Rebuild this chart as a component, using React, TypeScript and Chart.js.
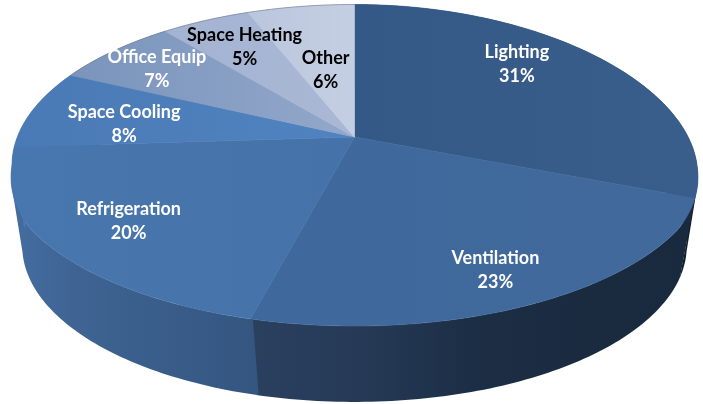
import { useEffect, useRef } from "react";
import { Chart, registerables } from "chart.js";

Chart.register(...registerables);

const categories = ["Lighting", "Ventilation", "Refrigeration", "Space Cooling", "Office Equip", "Space Heating", "Other"];
const shares = [31, 23, 20, 8, 7, 5, 6];

// Top face colours, left to right across each slice
const faceColors = [
  ["#355987", "#3a5e8b"],
  ["#3f689c", "#41699c"],
  ["#4876ae", "#4572a8"],
  ["#4a7ab6", "#5083c0"],
  ["#7a94bc", "#93a8ca"],
  ["#a3b3d2", "#aab8d5"],
  ["#bac6dd", "#c5cfe3"],
];
// Side wall colours, left to right across each slice
const wallColors = [
  ["#16263a", "#101d2d"],
  ["#2a405f", "#263a57", "#1c2e45", "#1a2b40", "#192a3e"],
  ["#446da0", "#3f6494", "#3b5f8c", "#385a87", "#33557f"],
  ["#4a78b2", "#4a78b2"],
  ["#7a94bc", "#7a94bc"],
  ["#a3b3d2", "#a3b3d2"],
  ["#bac6dd", "#bac6dd"],
];
const labelColors = ["#ffffff", "#ffffff", "#ffffff", "#ffffff", "#ffffff", "#000000", "#000000"];
// Label offsets from the point at 60% of the radius on each slice's middle angle
const labelNudges = [
  [9, -23.5],
  [36.5, 41],
  [-56, 20],
  [-35.5, 4.5],
  [-47.5, -14],
  [-15.5, -16],
  [5.5, 16],
];

// Perspective view of the pie's disc: the hub sits above the centre of the visible ellipse.
const HUB_X = 354.5;
const HUB_Y = 137;
const SCALE_X = 337.2;
const SCALE_Y = 155.8;
const TILT = -0.1757;
const ELLIPSE_MID_Y = 165.25;
const ELLIPSE_HALF_H = 160.75;
const FLOOR_SHRINK = 0.97;
const FLOOR_MID_Y = 246;
// Each wall starts a touch early so neighbouring walls leave no hairline between them
const WALL_OVERLAP = 0.006;

type Pt = [number, number];

function rawRim(theta: number, r: number): Pt {
  const u = r * Math.sin(theta);
  const v = -r * Math.cos(theta);
  const w = 1 + TILT * v;
  return [HUB_X + (SCALE_X * u) / w, HUB_Y + (SCALE_Y * v) / w];
}

// The disc bulges slightly below its middle and pulls in on the far right
function project(theta: number, r: number): Pt {
  const [x, y] = rawRim(theta, r);
  const dy = (y - ELLIPSE_MID_Y) / ELLIPSE_HALF_H;
  let gain = 1;
  if (dy > 0) gain += 0.03 * Math.min(1, dy / 0.4);
  else if (x > HUB_X) gain += 0.06 * dy;
  return [HUB_X + (x - HUB_X) * gain, y];
}

function projectFloor(theta: number): Pt {
  const [x, y] = rawRim(theta, 1);
  return [HUB_X + FLOOR_SHRINK * (x - HUB_X), FLOOR_MID_Y + FLOOR_SHRINK * (y - ELLIPSE_MID_Y)];
}

function sweep(a: number, b: number): number[] {
  const n = Math.max(2, Math.ceil(((b - a) * 180) / Math.PI));
  return Array.from({ length: n + 1 }, (_, i) => a + ((b - a) * i) / n);
}

function gradientAcross(ctx: CanvasRenderingContext2D, xs: number[], stops: string[]) {
  const g = ctx.createLinearGradient(Math.min(...xs), 0, Math.max(...xs), 0);
  stops.forEach((c, i) => g.addColorStop(i / (stops.length - 1), c));
  return g;
}

function tracePolygon(ctx: CanvasRenderingContext2D, pts: Pt[]) {
  pts.forEach((p, i) => (i ? ctx.lineTo(p[0], p[1]) : ctx.moveTo(p[0], p[1])));
  ctx.closePath();
}

function signedArea(pts: Pt[]) {
  return pts.reduce((sum, p, i) => {
    const q = pts[(i + 1) % pts.length];
    return sum + p[0] * q[1] - q[0] * p[1];
  }, 0);
}

const tiltedPie = {
  id: "tiltedPie",
  // Replaces the flat arcs with a tilted disc built from the controller's slice angles
  beforeDatasetDraw(chart: Chart) {
    const ctx = chart.ctx;
    const arcs = chart.getDatasetMeta(0).data as any[];
    const spans = arcs.map((arc) => {
      const { startAngle, endAngle } = arc.getProps(["startAngle", "endAngle"], true);
      return [startAngle + Math.PI / 2, endAngle + Math.PI / 2];
    });

    ctx.save();
    // Side wall: one path of same-wound quads, so the silhouette follows the tangent from rim to floor
    spans.forEach(([a, b], i) => {
      const angles = sweep(a - WALL_OVERLAP, b);
      const top = angles.map((t) => project(t, 1));
      const floor = angles.map(projectFloor);
      ctx.beginPath();
      for (let k = 0; k < angles.length - 1; k++) {
        const quad: Pt[] = [top[k], top[k + 1], floor[k + 1], floor[k]];
        tracePolygon(ctx, signedArea(quad) < 0 ? quad.reverse() : quad);
      }
      ctx.fillStyle = gradientAcross(ctx, [...top, ...floor].map((p) => p[0]), wallColors[i]);
      ctx.fill();
    });
    // Top face
    spans.forEach(([a, b], i) => {
      const rim = sweep(a, b).map((t) => project(t, 1));
      const face: Pt[] = [[HUB_X, HUB_Y], ...rim];
      const paint = gradientAcross(ctx, face.map((p) => p[0]), faceColors[i]);
      ctx.beginPath();
      tracePolygon(ctx, face);
      ctx.fillStyle = paint;
      ctx.strokeStyle = paint;
      ctx.lineWidth = 0.6;
      ctx.fill();
      ctx.stroke();
    });
    // Faint grey rim along the pale far edge
    ctx.beginPath();
    sweep(spans[4][0], spans[6][1]).forEach((t, i) => {
      const [x, y] = project(t, 1);
      if (i) ctx.lineTo(x, y);
      else ctx.moveTo(x, y);
    });
    ctx.strokeStyle = "rgba(110,118,135,0.55)";
    ctx.lineWidth = 1;
    ctx.stroke();

    ctx.font = "bold 18px Lato";
    ctx.textAlign = "center";
    ctx.textBaseline = "middle";
    spans.forEach(([a, b], i) => {
      const [x, y] = project((a + b) / 2, 0.6);
      const px = x + labelNudges[i][0];
      const py = y + labelNudges[i][1];
      ctx.fillStyle = labelColors[i];
      ctx.fillText(categories[i], px, py - 12);
      ctx.fillText(`${shares[i]}%`, px, py + 12);
    });
    ctx.restore();
    return false;
  },
};

export default function App() {
  const canvasRef = useRef<HTMLCanvasElement | null>(null);

  useEffect(() => {
    document.body.style.margin = "0";
    document.body.style.background = "#ffffff";
    const chart = new Chart(canvasRef.current!, {
      type: "pie",
      data: {
        labels: categories,
        datasets: [{ data: shares }],
      },
      options: {
        responsive: false,
        animation: false,
        events: [],
        plugins: { legend: { display: false }, tooltip: { enabled: false } },
      },
      plugins: [tiltedPie],
    });
    return () => chart.destroy();
  }, []);

  return <canvas ref={canvasRef} width={703} height={404} style={{ display: "block" }} />;
}
